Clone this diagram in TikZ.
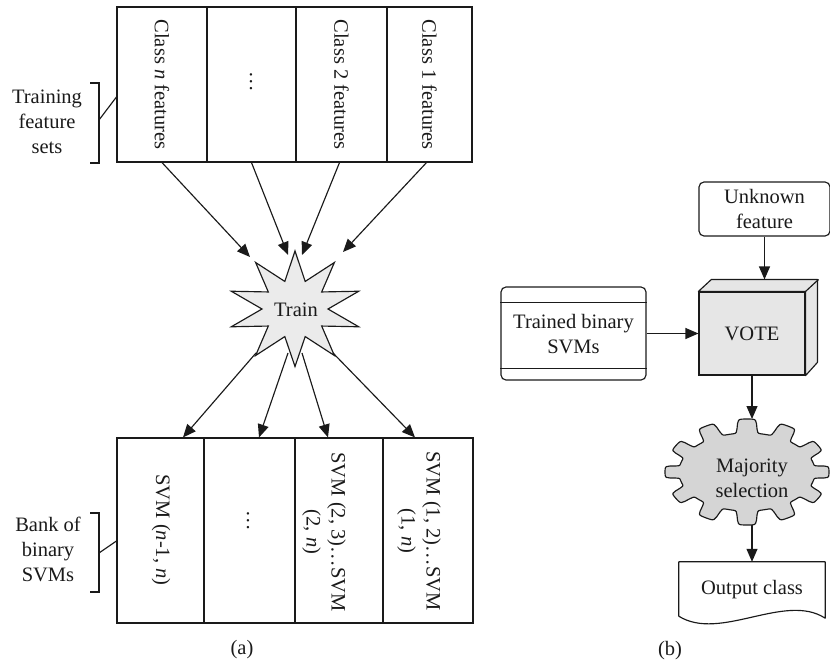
\documentclass[tikz,border=0pt]{standalone}
\usepackage{fontspec}
\setmainfont{Liberation Serif}
\usetikzlibrary{arrows.meta,calc}
\definecolor{starg}{HTML}{EBEBEB}
\definecolor{voteg}{HTML}{E6E6E6}
\definecolor{gearg}{HTML}{D5D5D5}
\definecolor{ink}{HTML}{1A1A1A}
\begin{document}
\begin{tikzpicture}[x=1pt,y=-1pt,
  lbl/.style={font=\fontsize{20.5pt}{25pt}\selectfont, inner sep=0pt, align=center, text=ink},
  cellbox/.style={draw=ink, line width=1.15pt, inner sep=0pt},
  edge/.style={draw=ink, line width=1.15pt},
  arr/.style={edge, -{Triangle[length=13pt,width=11pt]}},
  boxed/.style={lbl, draw=ink, line width=1.15pt},
]
\useasboundingbox (0,0) rectangle (830,664);

% ---------- (a) training feature sets ----------
\node[cellbox, minimum width=90pt, minimum height=155pt] (c1) at (162,84.5) {};
\node[cellbox, minimum width=89pt, minimum height=155pt] (c2) at (251.5,84.5) {};
\node[cellbox, minimum width=91pt, minimum height=155pt] (c3) at (341.5,84.5) {};
\node[cellbox, minimum width=85pt, minimum height=155pt] (c4) at (429.5,84.5) {};
\node[lbl, rotate=-90] (c1t) at (c1) {Class \textit{n} features};
\node[lbl, rotate=-90] (c2t) at (251,82) {\ldots};
\node[lbl, rotate=-90] (c3t) at (c3) {Class 2 features};
\node[lbl, rotate=-90] (c4t) at (c4) {Class 1 features};

\node[lbl] (tfs) at (47,122) {Training\\feature\\sets};
\draw[edge] (90,83) -- (99,83) -- (99,163) -- (90,163);
\draw[edge] (99,120) -- ($(c1.west)+(0,12.5)$);

% ---------- train star ----------
\node[lbl] (train) at (295,309) {};
\draw[edge, fill=starg, line join=miter]
  ($(train)+(0,-58)$)
  \foreach \k in {1,...,19} {
    -- ($(train)+({(iseven(\k)?67:33)*cos(90+18*\k)},{-(iseven(\k)?57.5:29)*sin(90+18*\k)})$)
  } -- cycle;
\node[lbl] (traint) at (296,310) {Train};

\coordinate (t1) at (250,257);
\coordinate (t2) at (288,255);
\coordinate (t3) at (302,255);
\coordinate (t4) at (343,252);
\draw[arr] (c1.south) -- (t1);
\draw[arr] (c2.south) -- (t2);
\draw[arr] ($(c3.south)+(-2,0)$) -- (t3);
\draw[arr] ($(c4.south)+(-3,0)$) -- (t4);

% ---------- bank of binary SVMs ----------
\node[cellbox, minimum width=87pt, minimum height=185pt] (b1) at (160.5,530.5) {};
\node[cellbox, minimum width=91pt, minimum height=185pt] (b2) at (249.5,530.5) {};
\node[cellbox, minimum width=88pt, minimum height=185pt] (b3) at (339,530.5) {};
\node[cellbox, minimum width=90pt, minimum height=185pt] (b4) at (428,530.5) {};
\node[lbl, rotate=-90] (b1t) at (161,530) {SVM (\textit{n}-1, \textit{n})};
\node[lbl, rotate=-90] (b2t) at (248,521) {\ldots};
\node[lbl, rotate=-90, align=center] (b3t) at (324,532) {SVM (2, 3)\ldots SVM\\(2, \textit{n})};
\node[lbl, rotate=-90, align=center] (b4t) at (419,531) {SVM (1, 2)\ldots SVM\\(1, \textit{n})};

\node[lbl] (bank) at (48,549) {Bank of\\binary\\SVMs};
\draw[edge] (90,513) -- (99,513) -- (99,592) -- (90,592);
\draw[edge] (99,553) -- ($(b1.west)+(0,10.5)$);

\coordinate (s1) at ($(train)+(-39,44)$);
\coordinate (s2) at ($(train)+(-7,44)$);
\coordinate (s3) at ($(train)+(7,44)$);
\coordinate (s4) at ($(train)+(38,44)$);
\coordinate (e1) at ($(b1.north)+(22.5,0)$);
\coordinate (e2) at ($(b2.north)+(9.5,0)$);
\coordinate (e3) at ($(b3.north)+(-11,0)$);
\coordinate (e4) at ($(b4.north)+(-13,0)$);
\draw[arr] (s1) -- (e1);
\draw[arr] (s2) -- (e2);
\draw[arr] (s3) -- (e3);
\draw[arr] (s4) -- (e4);

\node[lbl] (capa) at (242,650) {(a)};

% ---------- (b) voting ----------
\node[boxed, rounded corners=5pt, minimum width=131pt, minimum height=54pt] (unk) at (764.5,209) {Unknown\\feature};

\node[boxed, fill=voteg, minimum width=106pt, minimum height=83pt] (vote) at (752,333.5) {VOTE};
\draw[edge, fill=voteg, line join=round]
  (vote.north west) -- ++(13,-12) -- ++(106,0) -- ++(0,83) -- (vote.south east) -- (vote.north east) -- cycle;
\draw[edge] (vote.north east) -- ++(13,-12);
\coordinate (vtop) at ($(vote.north)+(13,-12)$);
\draw[arr] (unk.south) -- (unk.south |- vtop);

\node[boxed, rounded corners=5pt, minimum width=145pt, minimum height=93pt, text depth=-4pt] (svm) at (573.5,333.5) {Trained binary\\SVMs};
\draw[edge] ([yshift=-16pt]svm.north west) -- ([yshift=-16pt]svm.north east);
\draw[edge] ([yshift=12pt]svm.south west) -- ([yshift=12pt]svm.south east);
\draw[arr] (svm.east) -- (vote.west);

% majority selection gear
\draw[edge, fill=gearg, line join=round]
  plot[domain=0:360, samples=361, variable=\t]
  ({747+(82-14*0.5*(1-tanh(4*cos(12*\t))))*cos(\t)},
   {472-(53-14*0.5*(1-tanh(4*cos(12*\t))))*sin(\t)}) -- cycle;
\node[lbl] (maj) at (752,478) {Majority\\selection};
\coordinate (gtop) at (752,419);
\coordinate (gbot) at (752,525);
\draw[arr] (vote.south) -- (gtop);

% output document
\node[lbl, minimum width=146pt, minimum height=55pt] (out) at (752,589.5) {Output class};
\draw[edge, line join=round] (out.north west) -- (out.north east) -- ($(out.south east)+(0,1)$)
  .. controls (785,592) and (720,642) .. ($(out.south west)+(0,-1)$) -- cycle;
\draw[arr] (gbot) -- (out.north);

\node[lbl] (capb) at (670,651) {(b)};
\end{tikzpicture}
\end{document}
